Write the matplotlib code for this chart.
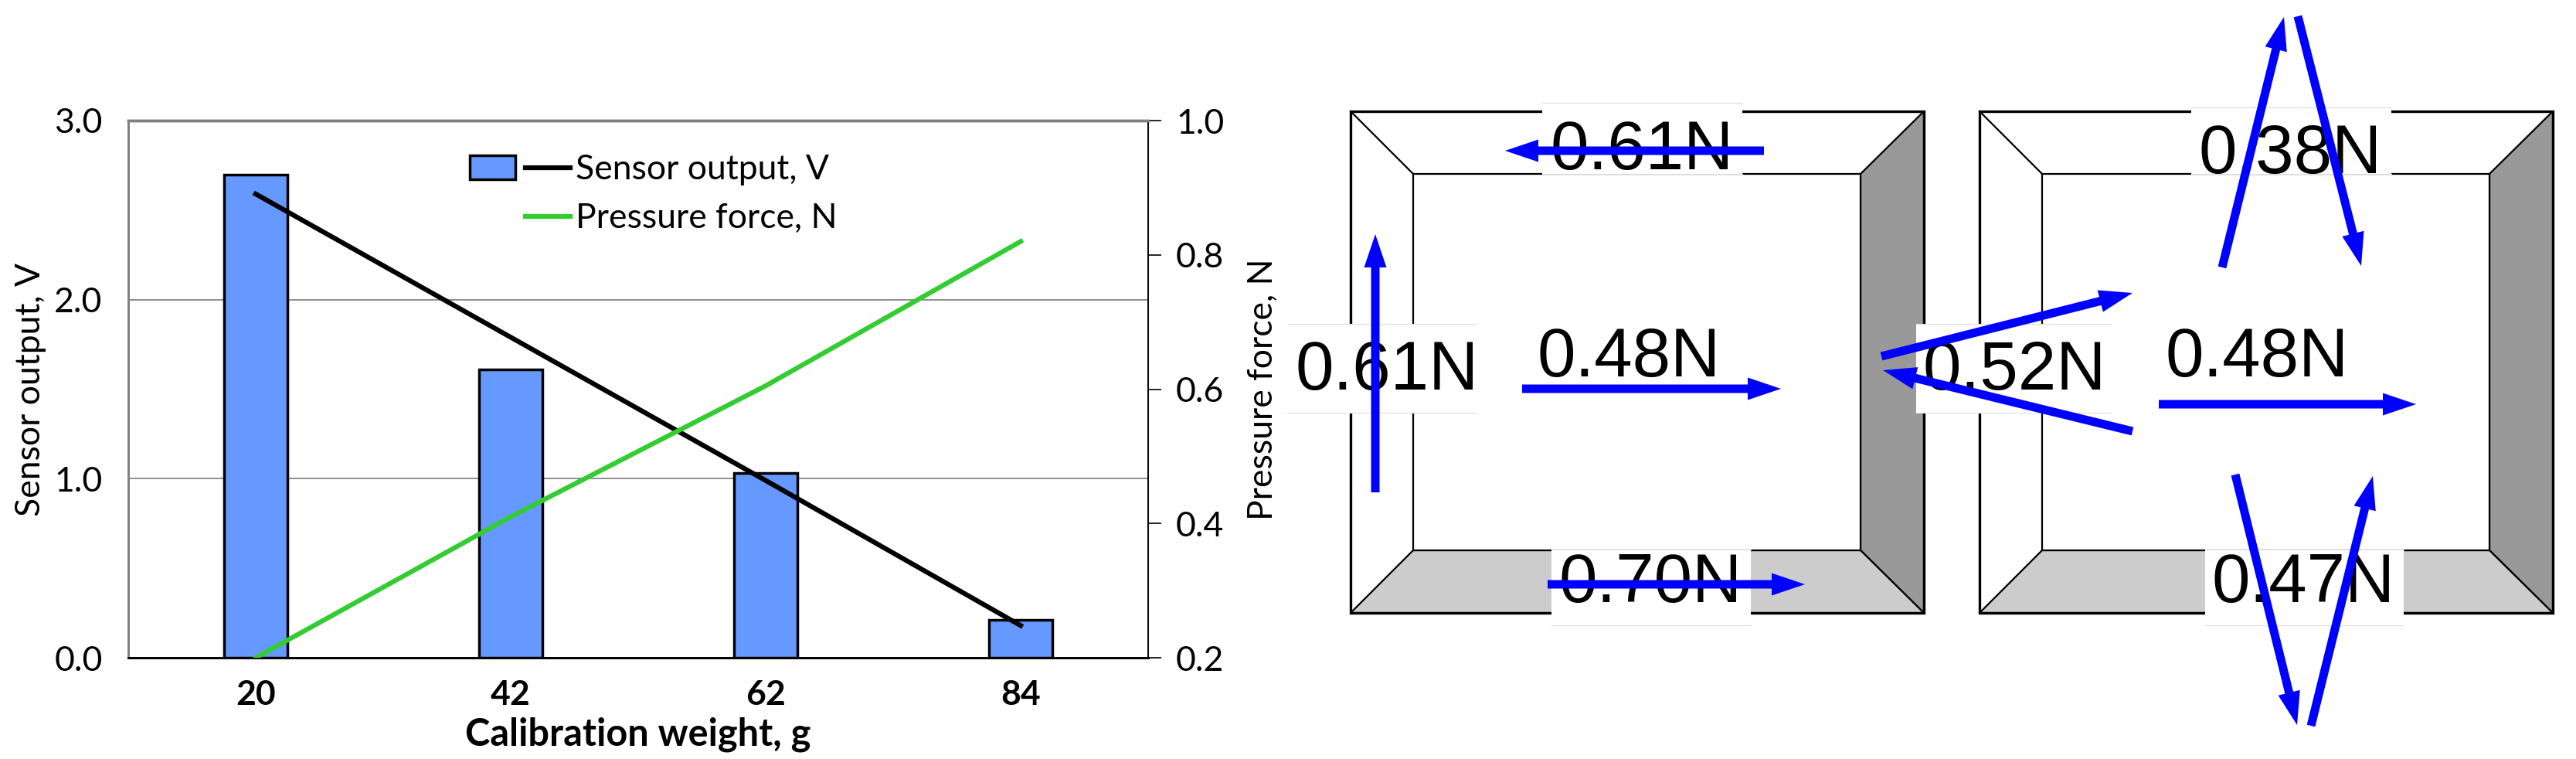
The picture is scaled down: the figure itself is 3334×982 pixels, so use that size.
import matplotlib
matplotlib.use('Agg')
import matplotlib.pyplot as plt
from matplotlib.legend_handler import HandlerTuple
from matplotlib.patches import Patch, Polygon, Rectangle

plt.rcParams['font.family'] = ['Lato', 'DejaVu Sans']

# Chart data
weights = ['20', '42', '62', '84']
sensor_bars = [2.70, 1.61, 1.03, 0.21]
sensor_line = [2.59, 1.79, 0.99, 0.18]
pressure_force = [0.20, 0.41, 0.605, 0.82]

# Force diagrams, figure pixels: (x0, y0, x1, y1)
left_frame = (1748, 144, 2490, 793)
left_inner = (1829, 225, 2408, 712)
right_frame = (2562, 144, 3304, 793)
right_inner = (2643, 225, 3222, 712)

arrows = [
    (2283, 195, 1948, 195),
    (1780, 637, 1780, 303),
    (1970, 503, 2305, 503),
    (2003, 756, 2336, 756),
    (2435, 461, 2760, 379),
    (2760, 558, 2437, 479),
    (2876, 346, 2956, 22),
    (2974, 21, 3056, 344),
    (2794, 523, 3127, 523),
    (2893, 614, 2973, 938),
    (2991, 939, 3071, 616),
]

# text, x, y, box (x0, y0, x1, y1) or None
force_labels = [
    ('0.61N', 2125, 186, (1996, 133, 2255, 225)),
    ('0.61N', 1795, 471, (1666, 419, 1910, 534)),
    ('0.48N', 2108, 454, None),
    ('0.70N', 2136, 746, (2008, 711, 2266, 809)),
    ('0.52N', 2607, 471, (2480, 419, 2732, 534)),
    ('0.38N', 2964, 191, (2836, 139, 3095, 225)),
    ('0.48N', 2921, 454, None),
    ('0.47N', 2981, 746, (2854, 711, 3111, 809)),
]

W, H = 3334, 982
fig = plt.figure(figsize=(W / 100, H / 100), dpi=100, facecolor='white')

# Left chart
ax = fig.add_axes([166 / W, 1 - 851 / H, 1320 / W, 695 / H])
ax2 = ax.twinx()
positions = range(len(weights))

ax.set_axisbelow(True)
ax.yaxis.grid(True, color='#707070', lw=1.1)
bars = ax.bar(positions, sensor_bars, width=0.25, color='#6699FF', edgecolor='black', lw=2.5, zorder=2)
black_line, = ax.plot(positions, sensor_line, color='black', lw=4.5, zorder=3)
ax.set_xlim(-0.5, 3.5)
ax.set_ylim(0, 3)
ax.set_yticks([0, 1, 2, 3], ['0.0', '1.0', '2.0', '3.0'])
ax.set_xticks(list(positions), weights, fontweight='bold')
ax.tick_params(axis='x', length=0, labelsize=32, pad=20)
ax.tick_params(axis='y', length=0, labelsize=32, pad=24)
ax.set_xlabel('Calibration weight, g', fontsize=35, fontweight='bold', labelpad=6)
ax.set_ylabel('Sensor output, V', fontsize=32)
ax.yaxis.set_label_coords(-0.08, 0.5)

green_line, = ax2.plot(positions, pressure_force, color='#33CC33', lw=4.5, zorder=3)
ax2.set_ylim(0.2, 1.0)
ax2.set_yticks([0.2, 0.4, 0.6, 0.8, 1.0], ['0.2', '0.4', '0.6', '0.8', '1.0'])
ax2.tick_params(axis='y', length=12, width=1.2, labelsize=32, pad=14)
ax2.set_ylabel('Pressure force, N', fontsize=32)
ax2.yaxis.set_label_coords(1.097, 0.5)

for a in (ax, ax2):
    a.spines['top'].set(color='#808080', lw=2.5)
    a.spines['left'].set(color='#808080', lw=2)
    a.spines['right'].set(color='black', lw=1.2)
    a.spines['bottom'].set(color='black', lw=2)

blank = Patch(fc='none', ec='none')
ax2.legend([(bars[0], black_line), (blank, green_line)], ['Sensor output, V', 'Pressure force, N'],
           handler_map={tuple: HandlerTuple(ndivide=2, pad=0.3)},
           loc='upper left', bbox_to_anchor=(0.335, 0.938), frameon=False, fontsize=32,
           handlelength=2.93, handletextpad=0.15, labelspacing=0.5, borderpad=0, borderaxespad=0)

# Force diagrams, drawn in figure pixels
dg = fig.add_axes([0, 0, 1, 1], zorder=5)
dg.set_xlim(0, W)
dg.set_ylim(H, 0)
dg.axis('off')
dg.patch.set_alpha(0)


def draw_frame(outer, inner):
    ox0, oy0, ox1, oy1 = outer
    ix0, iy0, ix1, iy1 = inner
    dg.add_patch(Rectangle((ox0, oy0), ox1 - ox0, oy1 - oy0, fc='white', ec='none', zorder=1))
    dg.add_patch(Polygon([(ix1, iy0), (ox1, oy0), (ox1, oy1), (ix1, iy1)], fc='#999999', ec='black', lw=1.6, zorder=1))
    dg.add_patch(Polygon([(ix0, iy1), (ix1, iy1), (ox1, oy1), (ox0, oy1)], fc='#CCCCCC', ec='black', lw=1.6, zorder=1))
    dg.add_patch(Rectangle((ix0, iy0), ix1 - ix0, iy1 - iy0, fc='white', ec='black', lw=1.6, zorder=1))
    dg.plot([ox0, ix0], [oy0, iy0], color='black', lw=1.6, zorder=1)
    dg.add_patch(Rectangle((ox0, oy0), ox1 - ox0, oy1 - oy0, fc='none', ec='black', lw=2.4, zorder=1))


draw_frame(left_frame, left_inner)
draw_frame(right_frame, right_inner)

for label, x, y, box in force_labels:
    if box:
        bx0, by0, bx1, by1 = box
        dg.add_patch(Rectangle((bx0, by0), bx1 - bx0, by1 - by0, fc='white', ec='none', zorder=2))
        dg.plot([bx0, bx1], [by0, by0], color='#DDDDDD', lw=0.8, zorder=2)
        dg.plot([bx0, bx1], [by1, by1], color='#DDDDDD', lw=0.8, zorder=2)
    dg.text(x, y, label, fontsize=64, family='Liberation Sans', ha='center', va='center_baseline', zorder=3)

for x0, y0, x1, y1 in arrows:
    dg.arrow(x0, y0, x1 - x0, y1 - y0, width=11, head_width=29, head_length=43,
             length_includes_head=True, fc='#0000FF', ec='none', zorder=4)

fig.savefig('out.png', dpi=100)
